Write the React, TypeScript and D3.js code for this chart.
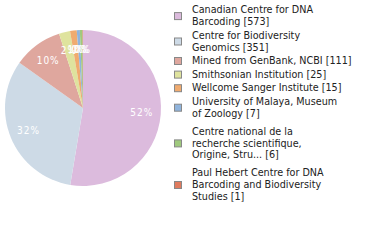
import React from "react";
import * as d3 from "d3";

const labels: string[][] = [
  ["Canadian Centre for DNA", "Barcoding [573]"],
  ["Centre for Biodiversity", "Genomics [351]"],
  ["Mined from GenBank, NCBI [111]"],
  ["Smithsonian Institution [25]"],
  ["Wellcome Sanger Institute [15]"],
  ["University of Malaya, Museum", "of Zoology [7]"],
  ["Centre national de la", "recherche scientifique,", "Origine, Stru... [6]"],
  ["Paul Hebert Centre for DNA", "Barcoding and Biodiversity", "Studies [1]"],
];
const values: number[] = [573, 351, 111, 25, 15, 7, 6, 1];
const colors: string[] = [
  "#dcbbdd",
  "#cddae6",
  "#dfa79e",
  "#dfe39e",
  "#f0ab6f",
  "#90b4dc",
  "#9fc97d",
  "#e07b5e",
];

export default function App() {
  const W = 380, H = 240;
  const cx = 83, cy = 108, R = 78, rl = 59;
  const total = d3.sum(values);
  const pie = d3.pie<number>().sort(null).value((d) => d)(values);
  const arc = d3.arc<d3.PieArcDatum<number>>().innerRadius(0).outerRadius(R);
  const labelArc = d3.arc<d3.PieArcDatum<number>>().innerRadius(rl).outerRadius(rl);

  // legend layout
  const lineH = 11.8;
  let y = 9.7;
  const entries: { lines: string[]; ys: number[]; c: string }[] = [];
  labels.forEach((lines, i) => {
    if (i > 0) {
      const prev = labels[i - 1].length;
      const gap = prev === 3 || lines.length === 3 ? 18 : 13.6;
      y += gap;
    }
    const ys: number[] = [];
    lines.forEach((_, j) => {
      if (j > 0) y += lineH;
      ys.push(y);
    });
    entries.push({ lines, ys, c: colors[i] });
  });

  return (
    <svg width={W} height={H} style={{ position: "absolute", left: 0, top: 0 }}
      fontFamily="DejaVu Sans">
      <rect width={W} height={H} fill="#fff" />
      <g transform={`translate(${cx},${cy})`}>
        {pie.map((p, i) => (
          <path key={i} d={arc(p) as string} fill={colors[i]} />
        ))}
        {pie.map((p, i) => {
          const [x, yy] = labelArc.centroid(p);
          const pct = Math.floor((values[i] / total) * 100);
          return (
            <text key={i} x={x} y={yy} dy="0.35em" textAnchor="middle"
              fill="#fff" fontSize={10} letterSpacing={1} fontFamily="DejaVu Sans Condensed">
              {pct}%
            </text>
          );
        })}
      </g>
      <g>
        {entries.map((e, i) => {
          const mid = (e.ys[0] + e.ys[e.ys.length - 1]) / 2;
          return (
            <g key={i}>
              <rect x={174.5} y={mid - 3} width={7} height={7} fill={e.c}
                stroke="#888" strokeWidth={1} />
              {e.lines.map((l, j) => (
                <text key={j} x={192} y={e.ys[j]} dy="0.35em" fontSize={10.7} fill="#222"
                  fontFamily="DejaVu Sans Condensed">
                  {l}
                </text>
              ))}
            </g>
          );
        })}
      </g>
    </svg>
  );
}
